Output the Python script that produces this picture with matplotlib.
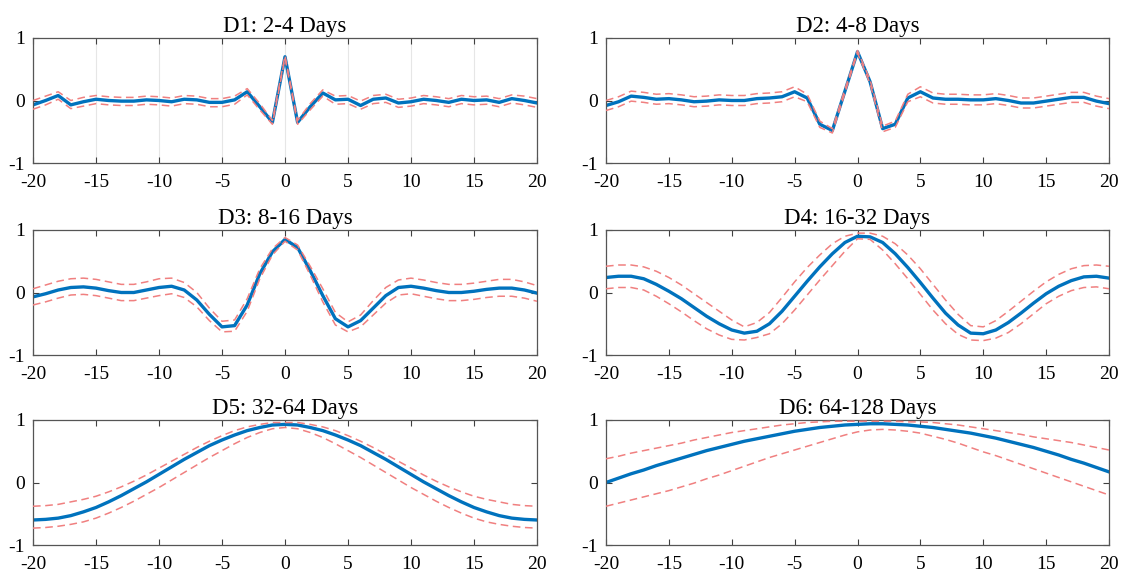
import numpy as np
import matplotlib.pyplot as plt

# lags -20..20
lags = np.arange(-20, 21)

titles = ["D1: 2-4 Days", "D2: 4-8 Days", "D3: 8-16 Days",
          "D4: 16-32 Days", "D5: 32-64 Days", "D6: 64-128 Days"]

d1 = [-0.07, 0.0, 0.08, -0.07, -0.02, 0.02, 0.0, -0.01, -0.01, 0.01, 0.0, -0.02, 0.02, 0.01,
      -0.03, -0.03, 0.01, 0.14, -0.1, -0.35, 0.7, -0.35, -0.1, 0.12, 0.01, 0.02, -0.08, 0.02,
      0.04, -0.04, -0.02, 0.02, 0.0, -0.03, 0.02, 0.0, 0.01, -0.03, 0.03, 0.0, -0.04]
d1_up = [0.0, 0.07, 0.14, 0.0, 0.05, 0.08, 0.06, 0.05, 0.05, 0.07, 0.06, 0.04, 0.08, 0.07,
         0.03, 0.03, 0.07, 0.19, -0.05, -0.32, 0.72, -0.32, -0.05, 0.17, 0.07, 0.08, -0.01, 0.08,
         0.1, 0.02, 0.04, 0.08, 0.06, 0.03, 0.08, 0.06, 0.07, 0.03, 0.09, 0.07, 0.03]
d1_lo = [-0.14, -0.07, 0.02, -0.13, -0.09, -0.05, -0.07, -0.08, -0.08, -0.06, -0.07, -0.09, -0.05, -0.06,
         -0.1, -0.1, -0.06, 0.09, -0.15, -0.38, 0.68, -0.38, -0.15, 0.07, -0.06, -0.05, -0.14, -0.05,
         -0.03, -0.11, -0.09, -0.05, -0.07, -0.1, -0.05, -0.07, -0.06, -0.1, -0.04, -0.07, -0.11]

d2 = [-0.08, -0.02, 0.07, 0.05, 0.02, 0.03, 0.01, -0.02, -0.01, 0.01, 0.0, 0.0, 0.03, 0.04,
      0.06, 0.14, 0.04, -0.38, -0.48, 0.15, 0.78, 0.3, -0.45, -0.38, 0.04, 0.14, 0.04, 0.02,
      0.02, 0.01, 0.01, 0.03, 0.0, -0.04, -0.04, -0.01, 0.02, 0.05, 0.05, -0.01, -0.05]
d2_up = [0.0, 0.06, 0.15, 0.13, 0.1, 0.11, 0.09, 0.06, 0.07, 0.09, 0.08, 0.08, 0.11, 0.12,
         0.14, 0.22, 0.1, -0.33, -0.45, 0.18, 0.8, 0.33, -0.41, -0.33, 0.1, 0.22, 0.12, 0.1,
         0.1, 0.09, 0.09, 0.11, 0.08, 0.04, 0.04, 0.07, 0.1, 0.13, 0.13, 0.07, 0.03]
d2_lo = [-0.16, -0.1, -0.01, -0.03, -0.06, -0.05, -0.07, -0.1, -0.09, -0.07, -0.08, -0.08, -0.05, -0.04,
         -0.02, 0.06, -0.02, -0.43, -0.52, 0.12, 0.76, 0.27, -0.5, -0.43, -0.02, 0.06, -0.04, -0.06,
         -0.06, -0.07, -0.07, -0.05, -0.08, -0.12, -0.12, -0.09, -0.06, -0.03, -0.03, -0.09, -0.13]

d3 = [-0.07, -0.02, 0.04, 0.08, 0.09, 0.07, 0.03, 0.0, 0.0, 0.04, 0.08, 0.1, 0.04, -0.12,
      -0.35, -0.55, -0.53, -0.2, 0.3, 0.65, 0.85, 0.72, 0.35, -0.05, -0.42, -0.55, -0.45, -0.25,
      -0.05, 0.08, 0.1, 0.07, 0.03, 0.0, 0.0, 0.02, 0.05, 0.07, 0.07, 0.04, -0.01]
d3_up = [0.06, 0.12, 0.18, 0.22, 0.23, 0.21, 0.17, 0.13, 0.13, 0.17, 0.22, 0.23, 0.16, 0.0,
         -0.25, -0.46, -0.44, -0.1, 0.38, 0.7, 0.88, 0.76, 0.42, 0.06, -0.32, -0.47, -0.36, -0.13,
         0.08, 0.2, 0.23, 0.2, 0.16, 0.13, 0.13, 0.15, 0.18, 0.21, 0.21, 0.17, 0.11]
d3_lo = [-0.2, -0.15, -0.09, -0.04, -0.03, -0.05, -0.09, -0.13, -0.13, -0.09, -0.05, -0.02, -0.08, -0.23,
         -0.45, -0.63, -0.62, -0.3, 0.22, 0.6, 0.82, 0.68, 0.28, -0.15, -0.52, -0.63, -0.55, -0.36,
         -0.17, -0.04, -0.02, -0.06, -0.1, -0.13, -0.13, -0.11, -0.08, -0.06, -0.06, -0.09, -0.14]

d4 = [0.24, 0.26, 0.26, 0.22, 0.13, 0.02, -0.1, -0.24, -0.38, -0.5, -0.6, -0.65, -0.62, -0.5,
      -0.3, -0.06, 0.18, 0.41, 0.62, 0.8, 0.9, 0.89, 0.8, 0.62, 0.4, 0.16, -0.09, -0.33,
      -0.52, -0.65, -0.66, -0.6, -0.48, -0.33, -0.17, -0.02, 0.1, 0.19, 0.25, 0.26, 0.23]
d4_up = [0.42, 0.44, 0.44, 0.41, 0.34, 0.24, 0.12, -0.02, -0.16, -0.3, -0.44, -0.55, -0.48, -0.32,
         -0.08, 0.17, 0.4, 0.6, 0.78, 0.9, 0.95, 0.95, 0.9, 0.78, 0.6, 0.38, 0.13, -0.12,
         -0.35, -0.53, -0.55, -0.45, -0.3, -0.14, 0.02, 0.17, 0.29, 0.38, 0.43, 0.44, 0.42]
d4_lo = [0.06, 0.08, 0.08, 0.04, -0.06, -0.18, -0.31, -0.45, -0.58, -0.68, -0.75, -0.76, -0.72, -0.66,
         -0.5, -0.28, -0.04, 0.2, 0.43, 0.66, 0.86, 0.85, 0.68, 0.46, 0.22, -0.03, -0.28, -0.5,
         -0.67, -0.76, -0.77, -0.73, -0.64, -0.5, -0.34, -0.18, -0.06, 0.03, 0.08, 0.09, 0.06]

d5 = [-0.6, -0.59, -0.57, -0.53, -0.47, -0.4, -0.31, -0.21, -0.1, 0.01, 0.13, 0.25, 0.37, 0.48,
      0.59, 0.68, 0.76, 0.83, 0.88, 0.92, 0.93, 0.92, 0.88, 0.83, 0.76, 0.68, 0.59, 0.48,
      0.37, 0.25, 0.13, 0.01, -0.1, -0.21, -0.31, -0.4, -0.47, -0.53, -0.57, -0.59, -0.6]
d5_up = [-0.38, -0.37, -0.35, -0.31, -0.27, -0.22, -0.15, -0.07, 0.02, 0.12, 0.23, 0.34, 0.45, 0.56,
         0.66, 0.75, 0.83, 0.89, 0.93, 0.96, 0.96, 0.96, 0.93, 0.89, 0.83, 0.75, 0.66, 0.56,
         0.45, 0.34, 0.23, 0.12, 0.02, -0.07, -0.15, -0.22, -0.27, -0.31, -0.35, -0.37, -0.38]
d5_lo = [-0.73, -0.72, -0.7, -0.67, -0.63, -0.57, -0.49, -0.4, -0.3, -0.19, -0.08, 0.04, 0.16, 0.28,
         0.4, 0.51, 0.62, 0.72, 0.8, 0.86, 0.88, 0.86, 0.8, 0.72, 0.62, 0.51, 0.4, 0.28,
         0.16, 0.04, -0.08, -0.19, -0.3, -0.4, -0.49, -0.57, -0.63, -0.67, -0.7, -0.72, -0.73]

d6 = [0.0, 0.07, 0.14, 0.2, 0.27, 0.33, 0.39, 0.45, 0.51, 0.56, 0.61, 0.66, 0.7, 0.74,
      0.78, 0.82, 0.85, 0.88, 0.9, 0.92, 0.93, 0.94, 0.94, 0.93, 0.92, 0.9, 0.88, 0.85,
      0.82, 0.79, 0.75, 0.71, 0.66, 0.61, 0.56, 0.5, 0.44, 0.37, 0.31, 0.24, 0.17]
d6_up = [0.38, 0.42, 0.47, 0.51, 0.55, 0.59, 0.63, 0.68, 0.72, 0.76, 0.8, 0.83, 0.86, 0.89,
         0.92, 0.94, 0.96, 0.97, 0.98, 0.98, 0.98, 0.98, 0.98, 0.98, 0.97, 0.97, 0.96, 0.94,
         0.92, 0.89, 0.86, 0.83, 0.8, 0.77, 0.73, 0.7, 0.67, 0.64, 0.6, 0.56, 0.52]
d6_lo = [-0.38, -0.33, -0.28, -0.23, -0.18, -0.13, -0.07, -0.01, 0.06, 0.12, 0.19, 0.26, 0.33, 0.4,
         0.46, 0.52, 0.58, 0.64, 0.7, 0.76, 0.81, 0.84, 0.85, 0.84, 0.82, 0.79, 0.74, 0.69,
         0.63, 0.56, 0.49, 0.43, 0.36, 0.29, 0.22, 0.15, 0.08, 0.01, -0.06, -0.13, -0.2]

series = [(d1, d1_up, d1_lo), (d2, d2_up, d2_lo), (d3, d3_up, d3_lo),
          (d4, d4_up, d4_lo), (d5, d5_up, d5_lo), (d6, d6_up, d6_lo)]

plt.rcParams['font.family'] = ['Liberation Serif', 'DejaVu Serif']
plt.rcParams['axes.unicode_minus'] = False

fig = plt.figure(figsize=(11.21, 5.72), dpi=100)
W, H = 1121, 572
lefts = [33, 606]
widths = [504, 503]
tops = [38, 230, 420]
ax_h = 125

for i, (mid, up, lo) in enumerate(series):
    r, c = divmod(i, 2)
    ax = fig.add_axes([lefts[c] / W, 1 - (tops[r] + ax_h) / H, widths[c] / W, ax_h / H])
    if i == 0:
        ax.grid(axis='x', color='#e6e6e6', linewidth=0.8)
        ax.set_axisbelow(True)
    ax.plot(lags, mid, color='#0072BD', linewidth=2.4, zorder=2)
    ax.plot(lags, up, color='#f08080', linewidth=1.1, dashes=(5, 3), zorder=3)
    ax.plot(lags, lo, color='#f08080', linewidth=1.1, dashes=(5, 3), zorder=3)
    ax.set_xlim(-20, 20)
    ax.set_ylim(-1, 1)
    ax.set_xticks(range(-20, 21, 5))
    ax.set_yticks([-1, 0, 1])
    ax.tick_params(direction='in', top=True, right=True, length=4, width=0.8,
                   color='#404040', labelsize=14)
    ax.tick_params(axis='x', pad=8)
    ax.tick_params(axis='y', pad=6)
    for s in ax.spines.values():
        s.set_color('#555555')
        s.set_linewidth(0.9)
    ax.set_title(titles[i], fontsize=16.5, pad=4)

fig.savefig("out.png", dpi=100)
